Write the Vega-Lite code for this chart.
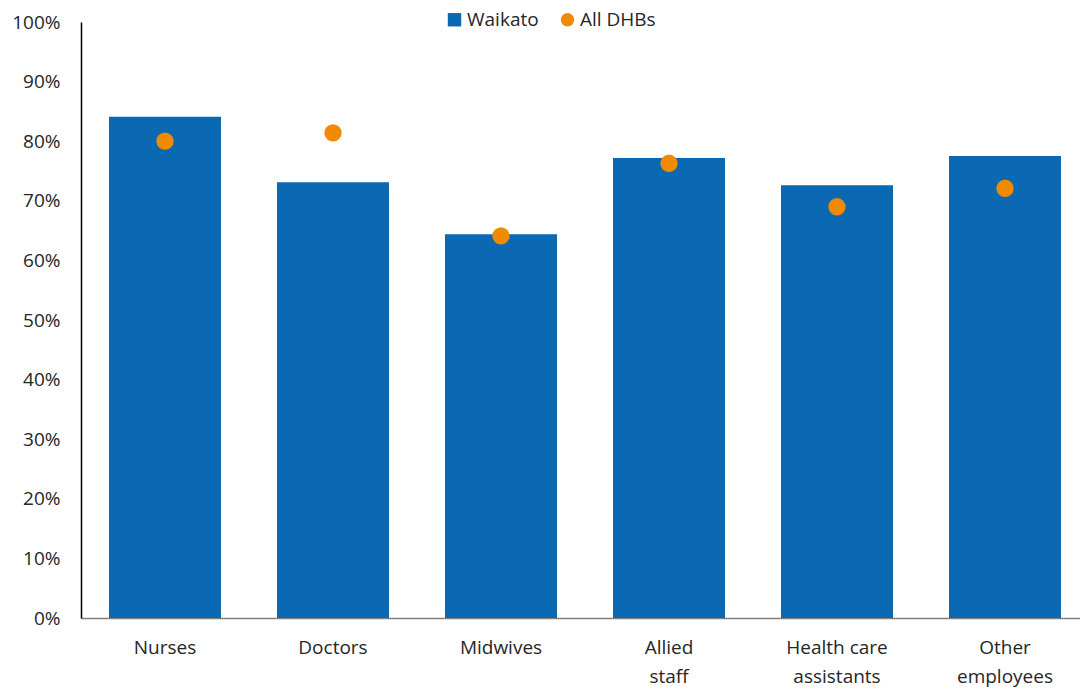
{
  "$schema": "https://vega.github.io/schema/vega-lite/v6.json",
  "width": 999,
  "height": 596,
  "autosize": {"type": "none"},
  "padding": {"left": 81, "top": 22, "right": 0, "bottom": 73},
  "config": {
    "view": {"stroke": null},
    "font": "Open Sans",
    "axis": {"labelFont": "Open Sans", "labelFontSize": 19, "labelColor": "#262626", "grid": false, "ticks": false, "title": null},
    "legend": {"labelFont": "Open Sans", "labelFontSize": 19, "labelColor": "#262626"}
  },
  "data": {
    "values": [
      {"category": "Nurses", "series": "Waikato", "value": 0.841},
      {"category": "Nurses", "series": "All DHBs", "value": 0.800},
      {"category": "Doctors", "series": "Waikato", "value": 0.731},
      {"category": "Doctors", "series": "All DHBs", "value": 0.814},
      {"category": "Midwives", "series": "Waikato", "value": 0.644},
      {"category": "Midwives", "series": "All DHBs", "value": 0.641},
      {"category": "Allied|staff", "series": "Waikato", "value": 0.772},
      {"category": "Allied|staff", "series": "All DHBs", "value": 0.763},
      {"category": "Health care|assistants", "series": "Waikato", "value": 0.726},
      {"category": "Health care|assistants", "series": "All DHBs", "value": 0.690},
      {"category": "Other|employees", "series": "Waikato", "value": 0.775},
      {"category": "Other|employees", "series": "All DHBs", "value": 0.721}
    ]
  },
  "encoding": {
    "x": {
      "field": "category",
      "type": "nominal",
      "sort": null,
      "scale": {"range": [0, 1008], "paddingInner": 0.3333, "paddingOuter": 0.1667},
      "axis": {"labelAngle": 0, "labelExpr": "split(datum.value, '|')", "labelPadding": 20, "labelLineHeight": 29, "domainColor": "#7f7f7f", "domainWidth": 1.5}
    },
    "y": {
      "field": "value",
      "type": "quantitative",
      "scale": {"domain": [0, 1], "nice": false},
      "axis": {"format": ".0%", "values": [0, 0.1, 0.2, 0.3, 0.4, 0.5, 0.6, 0.7, 0.8, 0.9, 1], "domainColor": "#000000", "domainWidth": 1.5, "labelPadding": 21}
    },
    "color": {
      "field": "series",
      "type": "nominal",
      "scale": {"domain": ["Waikato", "All DHBs"], "range": ["#0B69B3", "#F08A00"]},
      "legend": {"title": null, "orient": "none", "direction": "horizontal", "legendX": 364, "legendY": -12, "padding": 0, "columnPadding": 19, "symbolSize": 180, "labelOffset": 3, "symbolStrokeWidth": 0}
    }
  },
  "layer": [
    {
      "transform": [{"filter": "datum.series === 'Waikato'"}],
      "mark": {"type": "bar"}
    },
    {
      "transform": [{"filter": "datum.series === 'All DHBs'"}],
      "mark": {"type": "point", "filled": true, "size": 300, "opacity": 1},
      "encoding": {
        "shape": {
          "field": "series",
          "type": "nominal",
          "scale": {"domain": ["Waikato", "All DHBs"], "range": ["square", "circle"]},
          "legend": {"title": null, "orient": "none", "direction": "horizontal", "legendX": 364, "legendY": -12, "padding": 0, "columnPadding": 19, "symbolSize": 180, "labelOffset": 3, "symbolStrokeWidth": 0}
        }
      }
    }
  ]
}
